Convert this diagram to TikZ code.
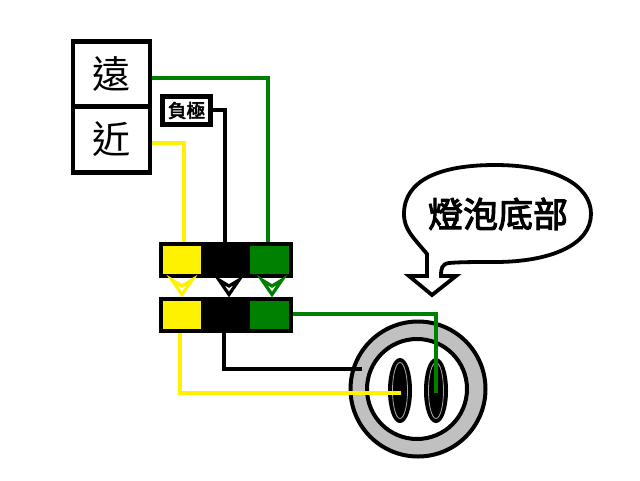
\documentclass[tikz,border=0pt]{standalone}
\usepackage{fontspec}
\usetikzlibrary{shapes.geometric}
\newfontfamily\cjk{Noto Sans CJK TC}
\newfontfamily\cjkm[FakeBold=3]{Noto Sans CJK TC}
\definecolor{wiregreen}{HTML}{008000}
\definecolor{ringgray}{HTML}{C0C0C0}
\begin{document}
\begin{tikzpicture}[x=1pt,y=-1pt,
  box/.style={draw=black,line width=4.5pt,fill=white,inner sep=0pt,outer sep=0pt,rectangle},
  lampbox/.style={box,minimum width=77pt,minimum height=66pt,font=\cjk\fontsize{38}{38}\selectfont},
  bar/.style={draw=black,line width=4.5pt,fill=black,inner sep=0pt,outer sep=0pt,rectangle,minimum width=130pt,minimum height=32pt},
  pin/.style={inner sep=0pt,outer sep=0pt,rectangle,minimum height=28pt},
  wire/.style={line width=4.5pt,line join=miter},
  tip/.style={line width=3.2pt,fill=white,line join=miter},
  slot/.style={draw=black,line width=3pt,fill=black,ellipse,inner sep=0pt,outer sep=0pt,minimum width=21pt,minimum height=62pt},
  slotline/.style={draw=white!65!black,line width=0.8pt,ellipse,inner sep=0pt,outer sep=0pt,minimum width=15pt,minimum height=56pt},
]
\useasboundingbox (0,0) rectangle (640,480);
\fill[white] (0,0) rectangle (640,480);

% socket
\node[circle,draw=black,line width=4pt,fill=ringgray,inner sep=0pt,outer sep=0pt,minimum size=135pt] (ring) at (418,389) {};
\node[circle,draw=black,line width=4pt,fill=white,inner sep=0pt,outer sep=0pt,minimum size=100pt] (hole) at (417,389) {};
\node[slot] (slotL) at (400,390.5) {};
\node[slotline] (slotLi) at (400,390.5) {};
\node[slot] (slotR) at (436,390.5) {};
\node[slotline] (slotRi) at (436,390.5) {};

% boxes
\node[lampbox] (far) at (111.5,74.5) {\raisebox{-1pt}{遠}};
\node[lampbox] (near) at (111.5,139.5) {\raisebox{1pt}{近}};
\node[box,line width=5pt,minimum width=48pt,minimum height=28pt,font=\cjkm\fontsize{18.5}{18.5}\selectfont] (neg) at (186.5,110.5) {負極};
\node[bar] (top) at (226,260) {};
\node[pin,fill=yellow,minimum width=38pt] (topY) at (182,260) {};
\node[pin,fill=wiregreen,minimum width=39pt] (topG) at (269.5,260) {};
\node[bar] (bot) at (226,315) {};
\node[pin,fill=yellow,minimum width=38pt] (botY) at (182,315) {};
\node[pin,fill=wiregreen,minimum width=39pt] (botG) at (269.5,315) {};

% free ends and bends
\coordinate (a1) at (152,78);
\coordinate (a2) at (268,242);
\coordinate (b1) at (213,110);
\coordinate (b2) at (225,242);
\coordinate (c1) at (152,143);
\coordinate (c2) at (184,242);
\coordinate (d1) at (293,314);
\coordinate (d2) at (436,393);
\coordinate (e1) at (224,333);
\coordinate (e2) at (362,369);
\coordinate (f1) at (180,333);
\coordinate (f2) at (401,393);

% wires
\draw[wire,wiregreen] (a1) -| (a2);
\draw[wire,black] (b1) -| (b2);
\draw[wire,yellow] (c1) -| (c2);
\draw[wire,wiregreen] (d1) -| (d2);
\draw[wire,black] (e1) |- (e2);
\draw[wire,yellow] (f1) |- (f2);

% arrowheads
\draw[tip,draw=yellow] (172,280) -- (182,294.5) -- (192,280) -- (182,286) -- cycle;
\draw[tip,draw=black] (219,280) -- (229,294.5) -- (239,280) -- (229,286) -- cycle;
\draw[tip,draw=wiregreen] (262,280) -- (272,294.5) -- (282,280) -- (272,286) -- cycle;

% callout
\draw[line width=3.8pt,line join=miter,fill=white]
  (432,295) -- (409,276) -- (427,276) -- (427,254)
  .. controls (414,238) and (404,230) .. (404,214)
  .. controls (404,180) and (440,165) .. (495,165)
  .. controls (555,165) and (591,185) .. (591,214)
  .. controls (591,245) and (550,262) .. (495,262)
  .. controls (475,262) and (460,262) .. (449,263)
  .. controls (442,264) and (441,268) .. (441,276)
  -- (456,276) -- cycle;
\node[font=\cjkm\fontsize{35}{35}\selectfont,inner sep=0pt] (say) at (498,214) {燈泡底部};
\end{tikzpicture}
\end{document}
